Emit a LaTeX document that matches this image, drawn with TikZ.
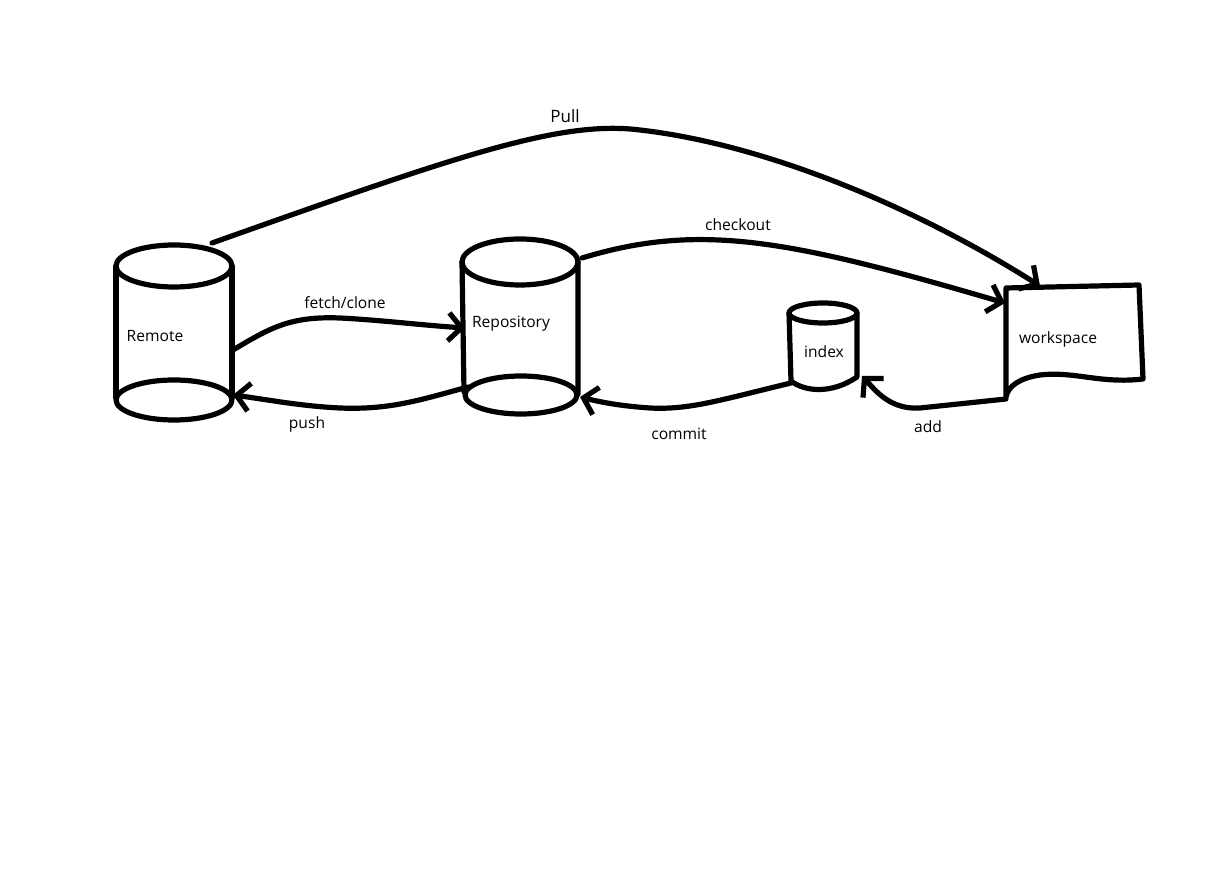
\documentclass[tikz,border=0pt]{standalone}
\usepackage{fontspec}
\setmainfont{Open Sans}
\usetikzlibrary{arrows.meta}

\begin{document}
\begin{tikzpicture}[x=0.5pt,y=-0.5pt,
  line width=2.6pt,line cap=round,line join=round,
  lab/.style={font=\fontsize{7.8}{9}\selectfont,inner sep=0pt},
  flow/.style={-{Straight Barb[length=6.5pt,width=14pt,line width=2.6pt]}}]
  \useasboundingbox (0,0) rectangle (1230,886);
  % Remote
  \draw (116,266) -- (116,398) (232,266) -- (232,398);
  \draw (174,266) ellipse [x radius=29pt,y radius=10.5pt];
  \draw (174,400) ellipse [x radius=29pt,y radius=10pt];
  % Repository
  \draw (462,262) -- (464,392) (578,262) -- (578,394);
  \draw (520,262) ellipse [x radius=29pt,y radius=11.5pt];
  \draw (521,395) ellipse [x radius=28pt,y radius=9.5pt];
  % index
  \draw (823,313) ellipse [x radius=17pt,y radius=5pt];
  \draw (789,313) -- (791,381) .. controls (805,392) and (832,394) .. (857,377) -- (857,313);
  % workspace
  \draw (1006,397) -- (1006,288) -- (1139,285) -- (1143,379)
    .. controls (1100,384) and (1075,371) .. (1040,375)
    .. controls (1020,378) and (1008,386) .. (1006,397);
  % anchors
  \coordinate (remote-n) at (212,243);
  \coordinate (remote-e) at (233,350);
  \coordinate (remote-se) at (233,395);
  \coordinate (repo-w) at (465,328);
  \coordinate (repo-sw) at (468,387);
  \coordinate (repo-ne) at (582,258);
  \coordinate (repo-se) at (580,397);
  \coordinate (index-sw) at (791,383);
  \coordinate (index-se) at (862,376);
  \coordinate (work-n) at (1040,286);
  \coordinate (work-w) at (1005,303);
  \coordinate (work-sw) at (1006,399);
  % labels
  \node[lab] (remote) at (155,336) {Remote};
  \node[lab] (repo) at (511,324) {Repository};
  \node[lab] (index) at (824,352) {index};
  \node[lab] (work) at (1058,339) {workspace};
  % connectors
  \draw[flow] (remote-n) .. controls (460,155) and (560,120) .. (640,130)
    .. controls (770,145) and (920,210) .. (work-n);
  \node[lab,font=\fontsize{8.5}{10}\selectfont] (pull) at (565,116) {Pull};
  \draw[flow] (repo-ne) .. controls (700,222) and (790,240) .. (work-w);
  \node[lab] (checkout) at (738,225) {checkout};
  \draw[flow] (remote-e) .. controls (270,328) and (290,316) .. (340,318)
    .. controls (380,320) and (420,325) .. (repo-w);
  \node[lab] (fetch) at (345,303) {fetch/clone};
  \draw[flow] (repo-sw) .. controls (420,400) and (390,410) .. (340,408)
    .. controls (300,406) and (270,400) .. (remote-se);
  \node[lab] (push) at (307,424) {push};
  \draw[flow] (index-sw) .. controls (720,400) and (690,410) .. (650,408)
    .. controls (620,406) and (600,402) .. (repo-se);
  \node[lab] (commit) at (679,434) {commit};
  \draw[flow] (work-sw) -- (920,408) .. controls (890,410) and (875,390) .. (index-se);
  \node[lab] (add) at (928,427) {add};
\end{tikzpicture}
\end{document}
